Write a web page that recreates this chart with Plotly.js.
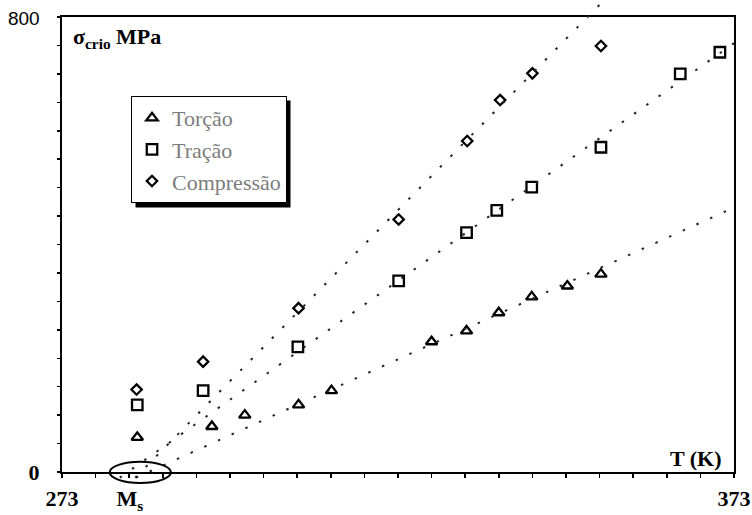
<!DOCTYPE html>
<html>
<head>
<meta charset="utf-8">
<script src="https://cdn.plot.ly/plotly-3.0.1.min.js"></script>
<style>
  html, body { margin: 0; padding: 0; background: #fff; }
  #chart { width: 752px; height: 515px; }
</style>
</head>
<body>
<div id="chart"></div>
<script>
// Critical stress (MPa) against temperature (K) for three loading modes
const torcaoT = [284.2, 295.3, 300.2, 308.2, 313.1, 328.0, 333.2, 338.0, 342.9, 348.2, 353.2];
const torcaoS = [61, 80, 100, 118, 143, 229, 248, 280, 308, 327, 348];

const tracaoT = [284.2, 294.0, 308.1, 323.1, 333.2, 337.7, 342.9, 353.2, 365.0, 370.9];
const tracaoS = [118, 143, 220, 336, 421, 460, 501, 571, 700, 738];

const compT = [284.1, 294.0, 308.2, 323.1, 333.3, 338.2, 343.0, 353.2];
const compS = [145, 194, 288, 444, 582, 654, 701, 749];

// Dotted linear trends (end points)
const fitTorcaoT = [284.0, 373];
const fitTorcaoS = [-10, 465];
const fitTracaoT = [281.6, 373];
const fitTracaoS = [-10, 754];
const fitCompT = [283.9, 353.7];
const fitCompS = [-10, 830];

const seriesNames = ['Torção', 'Tração', 'Compressão'];

// Axis ticks / labels
const msT = 283.1;
const xTickVals = [273, msT, 373];
const xTickText = ['273', 'M<sub>s</sub>', '373'];
const yTickVals = [0, 800];
const yTickText = ['0', '<span style="font-family:Liberation Sans;font-weight:normal;font-size:19px">800</span>'];

// Ellipse marking Ms on the temperature axis
const msBoxT = [280.1, 289.2];
const msBoxS = [-19.3, 18.1];

// ---- geometry ----
const W = 752, H = 515;
const margin = { l: 62, r: 18, t: 0, b: 25, pad: 0 };
const plotH = H - margin.t - margin.b;
const frameTopPx = 17, frameBotPx = 472;
const d0 = (H - margin.b - frameBotPx) / plotH;
const d1 = (H - margin.b - frameTopPx) / plotH;
const yMax = 800;
const perFrac = yMax / (d1 - d0);
const y2Range = [-d0 * perFrac, yMax + (1 - d1) * perFrac];

const serif = 'Liberation Serif, Times New Roman, serif';
const dotted = { color: '#262626', width: 2, dash: '2.5px,12.5px' };
const mk = (symbol, size) => ({ symbol: symbol, size: size, color: '#000', line: { color: '#000', width: 2.3 } });

const traces = [
  { x: torcaoT, y: torcaoS, name: seriesNames[0], type: 'scatter', mode: 'markers',
    marker: mk('triangle-up-open', 10), xaxis: 'x', yaxis: 'y', cliponaxis: false },
  { x: tracaoT, y: tracaoS, name: seriesNames[1], type: 'scatter', mode: 'markers',
    marker: mk('square-open', 10.5), xaxis: 'x', yaxis: 'y', cliponaxis: false },
  { x: compT, y: compS, name: seriesNames[2], type: 'scatter', mode: 'markers',
    marker: mk('diamond-open', 8), xaxis: 'x', yaxis: 'y', cliponaxis: false },
  { x: fitTorcaoT, y: fitTorcaoS, type: 'scatter', mode: 'lines', line: dotted,
    showlegend: false, hoverinfo: 'skip', xaxis: 'x2', yaxis: 'y2' },
  { x: fitTracaoT, y: fitTracaoS, type: 'scatter', mode: 'lines', line: dotted,
    showlegend: false, hoverinfo: 'skip', xaxis: 'x2', yaxis: 'y2' },
  { x: fitCompT, y: fitCompS, type: 'scatter', mode: 'lines', line: dotted,
    showlegend: false, hoverinfo: 'skip', xaxis: 'x2', yaxis: 'y2' }
];

// legend box placement (pixels) and its drop shadow
const legLeftPx = 131, legTopPx = 96;
const legW = 155, legH = 107, shadow = 4.5;
const px2fx = p => (p - margin.l) / (W - margin.l - margin.r);
const px2fy = p => (H - margin.b - p) / plotH;

const layout = {
  width: W, height: H, margin: margin,
  paper_bgcolor: '#fff', plot_bgcolor: 'rgba(0,0,0,0)',
  font: { family: serif, color: '#000', size: 18 },
  showlegend: true,
  legend: {
    x: px2fx(legLeftPx), y: px2fy(legTopPx), xanchor: 'left', yanchor: 'top',
    bgcolor: '#fff', bordercolor: '#000', borderwidth: 1,
    font: { family: serif, size: 22, color: '#7c7c7c' },
    tracegroupgap: 0
  },
  xaxis: {
    domain: [0, 1], range: [273, 373], anchor: 'y',
    showgrid: false, zeroline: false,
    showline: true, mirror: true, linecolor: '#000', linewidth: 2,
    tickmode: 'array', tickvals: xTickVals, ticktext: xTickText,
    ticks: '', ticklabelstandoff: 6,
    tickfont: { family: serif, size: 22, color: '#000', weight: 'bold' },
    minor: { ticks: 'outside', ticklen: 4, tickwidth: 1.5, tickcolor: '#000', dtick: 5, tick0: 273, showgrid: false }
  },
  yaxis: {
    domain: [d0, d1], range: [0, yMax], anchor: 'x',
    showgrid: false, zeroline: false,
    showline: true, mirror: true, linecolor: '#000', linewidth: 2,
    tickmode: 'array', tickvals: yTickVals, ticktext: yTickText,
    ticks: '', ticklabelstandoff: 16,
    tickfont: { family: serif, size: 22, color: '#000', weight: 'bold' },
    minor: { ticks: 'outside', ticklen: 3, tickwidth: 1.5, tickcolor: '#000', dtick: 50, tick0: 0, showgrid: false }
  },
  xaxis2: { domain: [0, 1], range: [273, 373], anchor: 'y2', visible: false, fixedrange: true },
  yaxis2: { domain: [0, 1], range: y2Range, anchor: 'x2', visible: false, fixedrange: true },
  shapes: [
    { type: 'circle', xref: 'x2', yref: 'y2', x0: msBoxT[0], x1: msBoxT[1], y0: msBoxS[0], y1: msBoxS[1],
      line: { color: '#000', width: 2 } },
    { type: 'rect', xref: 'paper', yref: 'paper', layer: 'above',
      x0: px2fx(legLeftPx + shadow), x1: px2fx(legLeftPx + legW + shadow),
      y0: px2fy(legTopPx + legH + shadow), y1: px2fy(legTopPx + shadow),
      fillcolor: '#000', line: { width: 0 } }
  ],
  annotations: [
    { xref: 'x', yref: 'y', x: 274.4, y: 763, xanchor: 'left', yanchor: 'middle', showarrow: false,
      text: '<b>σ<sub>crio</sub> MPa</b>', font: { family: serif, size: 22, color: '#000' } },
    { xref: 'x', yref: 'y', x: 371.5, y: 24, xanchor: 'right', yanchor: 'middle', showarrow: false,
      text: '<b>T (K)</b>', font: { family: serif, size: 22, color: '#000' } }
  ]
};

Plotly.newPlot('chart', traces, layout, { staticPlot: true, displayModeBar: false });
</script>
</body>
</html>
